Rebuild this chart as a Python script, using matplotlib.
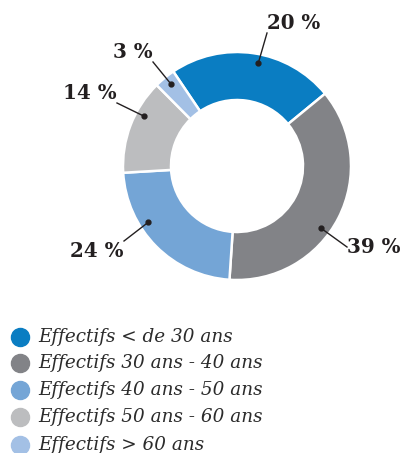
import numpy as np
import matplotlib
matplotlib.use("Agg")
import matplotlib.pyplot as plt

# ---------------------------------------------------------
# Data (slice sizes, labels as printed)
# ---------------------------------------------------------
categories = ["Effectifs < de 30 ans", "Effectifs 30 ans - 40 ans",
              "Effectifs 40 ans - 50 ans", "Effectifs 50 ans - 60 ans",
              "Effectifs > 60 ans"]
values = [23.5, 37.0, 23.0, 13.5, 3.0]
pct_labels = ["20 %", "39 %", "24 %", "14 %", "3 %"]
colors = ["#0a7dc2", "#828387", "#74a5d6", "#bcbdbf", "#a3c0e5"]

# label layout (pixels): where the leader line ends, text alignment
dot_frac = [0.54, 0.57, 0.65, 0.65, 0.55]
line_end = [(267, 33), (347, 247), (124, 241), (117, 103), (153, 62)]
text_align = [("left", "bottom"), ("left", "center"), ("right", "top"),
              ("right", "bottom"), ("right", "bottom")]

W, H = 402, 453
cx, cy = 237, 166
r_out, r_in = 114, 66
start = 124

fig = plt.figure(figsize=(W / 100, H / 100), dpi=100)
ax = fig.add_axes([0, 0, 1, 1])

ax.pie(values, colors=colors, startangle=start, counterclock=False,
       center=(cx, H - cy), radius=r_out, frame=True,
       wedgeprops=dict(width=r_out - r_in, edgecolor="white", linewidth=1.8))
ax.set_xlim(0, W)
ax.set_ylim(0, H)
ax.set_aspect("equal")
ax.axis("off")

# ---------------------------------------------------------
# Leader lines and percentages
# ---------------------------------------------------------
total = sum(values)
a0 = start
r_dot = 105
for v, lab, f, (lx, ly), (ha, va) in zip(values, pct_labels, dot_frac, line_end, text_align):
    span = v / total * 360
    ang = np.deg2rad(a0 - f * span)
    a0 -= span
    dx = cx + r_dot * np.cos(ang)
    dy = (H - cy) + r_dot * np.sin(ang)
    ax.plot([dx, lx], [dy, H - ly], color="#231f20", lw=1.0)
    ax.plot(dx, dy, "o", color="#231f20", ms=3.5)
    ax.text(lx, H - ly, lab, ha=ha, va=va, fontsize=14.3, fontweight="bold",
            family="DejaVu Serif", color="#231f20")

# ---------------------------------------------------------
# Legend
# ---------------------------------------------------------
leg_y = [337, 363, 390, 417, 445]
for name, c, y in zip(categories, colors, leg_y):
    ax.plot(20, H - y, "o", color=c, ms=13)
    ax.text(38, H - y, name, ha="left", va="center", fontsize=13.2,
            style="italic", family="DejaVu Serif", color="#2b2b2b")

fig.savefig("out.png", dpi=100)
